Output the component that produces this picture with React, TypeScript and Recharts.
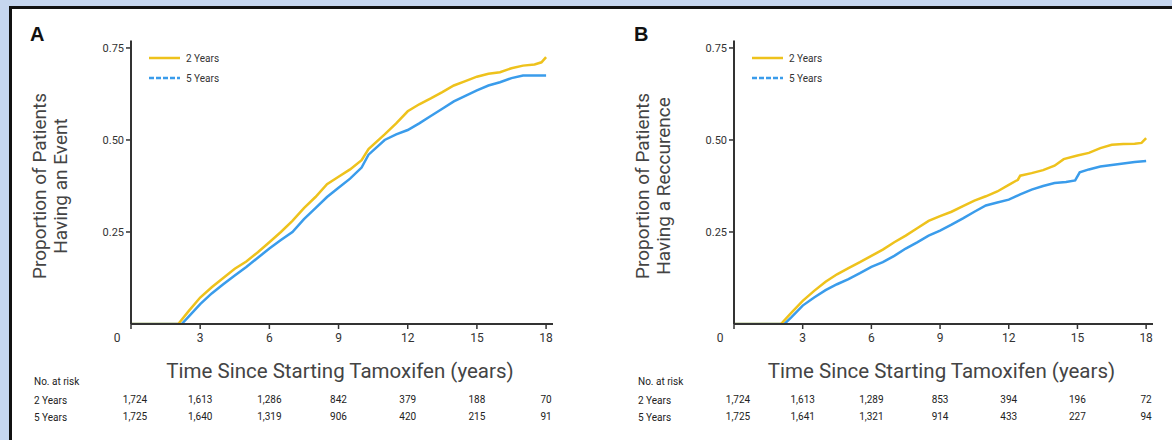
import React from 'react';
import { LineChart, Line, XAxis, YAxis } from 'recharts';

// time points (years) and cumulative proportions
const timeA2 = [0, 2.05, 2.5, 3, 3.5, 4, 4.5, 5, 5.5, 6, 6.5, 7, 7.5, 8, 8.5, 9, 9.5, 10, 10.3, 11, 11.5, 12, 12.5, 13, 13.5, 14, 14.5, 15, 15.5, 16, 16.5, 17, 17.5, 17.8, 18];
const eventA2 = [0, 0, 0.035, 0.072, 0.1, 0.125, 0.15, 0.17, 0.195, 0.222, 0.25, 0.28, 0.315, 0.345, 0.38, 0.4, 0.42, 0.445, 0.475, 0.515, 0.545, 0.578, 0.597, 0.613, 0.63, 0.648, 0.66, 0.672, 0.68, 0.684, 0.695, 0.702, 0.705, 0.711, 0.725];

const timeA5 = [0, 2.2, 2.5, 3, 3.5, 4, 4.5, 5, 5.5, 6, 6.5, 7, 7.5, 8, 8.5, 9, 9.5, 10, 10.3, 11, 11.5, 12, 12.5, 13, 13.5, 14, 14.5, 15, 15.5, 16, 16.5, 17, 18];
const eventA5 = [0, 0, 0.02, 0.054, 0.083, 0.108, 0.132, 0.155, 0.18, 0.205, 0.228, 0.25, 0.285, 0.315, 0.345, 0.37, 0.395, 0.425, 0.46, 0.5, 0.515, 0.527, 0.545, 0.565, 0.585, 0.605, 0.62, 0.635, 0.648, 0.657, 0.668, 0.675, 0.675];

const timeB2 = [0, 2.05, 2.5, 3, 3.5, 4, 4.5, 5, 5.5, 6, 6.5, 7, 7.5, 8, 8.5, 9, 9.5, 10, 10.5, 11, 11.5, 12, 12.4, 12.5, 13, 13.5, 14, 14.4, 15, 15.5, 16, 16.5, 17, 17.5, 17.8, 18];
const recurB2 = [0, 0, 0.03, 0.063, 0.09, 0.115, 0.135, 0.152, 0.168, 0.185, 0.202, 0.222, 0.24, 0.26, 0.28, 0.293, 0.305, 0.32, 0.335, 0.347, 0.36, 0.378, 0.392, 0.403, 0.41, 0.418, 0.43, 0.448, 0.458, 0.465, 0.478, 0.487, 0.489, 0.49, 0.492, 0.505];

const timeB5 = [0, 2.2, 2.5, 3, 3.5, 4, 4.5, 5, 5.5, 6, 6.5, 7, 7.5, 8, 8.5, 9, 9.5, 10, 10.5, 11, 11.5, 12, 12.5, 13, 13.5, 14, 14.5, 14.9, 15.1, 15.5, 16, 16.5, 17, 17.5, 18];
const recurB5 = [0, 0, 0.018, 0.05, 0.072, 0.092, 0.108, 0.122, 0.138, 0.155, 0.168, 0.185, 0.205, 0.222, 0.24, 0.254, 0.27, 0.287, 0.305, 0.322, 0.33, 0.338, 0.352, 0.365, 0.375, 0.383, 0.386, 0.39, 0.412, 0.42, 0.428, 0.432, 0.436, 0.44, 0.443];

// number at risk, one entry per x tick
const xTicks = [0, 3, 6, 9, 12, 15, 18];
const riskA2 = [1724, 1613, 1286, 842, 379, 188, 70];
const riskA5 = [1725, 1640, 1319, 906, 420, 215, 91];
const riskB2 = [1724, 1613, 1289, 853, 394, 196, 72];
const riskB5 = [1725, 1641, 1321, 914, 433, 227, 94];

const yTicks = [0.25, 0.5, 0.75];
const groups = ['2 Years', '5 Years'];

const YELLOW = '#eec21c';
const BLUE = '#3a9ceb';
const INK = '#333';
const FONT = 'Roboto, "DejaVu Sans", sans-serif';

const toPoints = (xs: number[], ys: number[]) => xs.map((t, i) => ({ t, p: ys[i] }));
const fmt = (n: number) => n.toLocaleString('en-US');

const makeXTick = (r2: number[], r5: number[]) => (props: any) => {
  const { x, y, payload } = props;
  const v = payload.value;
  const i = xTicks.indexOf(v);
  const isZero = v === 0;
  return (
    <g fontFamily={FONT} fill="#222">
      <text x={isZero ? x - 14 : x} y={y + 11} textAnchor="middle" fontSize={12} fill={INK}>{v}</text>
      <text x={isZero ? x + 4 : x} y={y + 72} textAnchor="middle" fontSize={10}>{fmt(r2[i])}</text>
      <text x={isZero ? x + 4 : x} y={y + 89} textAnchor="middle" fontSize={10}>{fmt(r5[i])}</text>
    </g>
  );
};

interface PanelProps {
  left: number;
  letter: string;
  yTitle: [string, string];
  s2: { t: number; p: number }[];
  s5: { t: number; p: number }[];
  r2: number[];
  r5: number[];
  plotLeft: number;
  plotRight: number;
}

const Panel: React.FC<PanelProps> = ({ left, letter, yTitle, s2, s5, r2, r5, plotLeft, plotRight }) => {
  const W = 580;
  const H = 440;
  const yAxisW = 60;
  const plotTop = 40.6;
  const plotBottom = 324;
  const xAxisH = 30;
  const midX = (plotLeft + plotRight) / 2;
  const lgX = plotLeft + 18;
  return (
    <div style={{ position: 'absolute', left, top: 0, width: W, height: H }}>
      <svg width={W} height={H} style={{ position: 'absolute', left: 0, top: 0 }}>
        <text x={20} y={41} fontSize={20} fontWeight="bold" fontFamily="Arial, 'Liberation Sans', sans-serif" fill="#111">{letter}</text>
        <g transform={`translate(${plotLeft - 85}, 186) rotate(-90)`} fontFamily={FONT} fontSize={19} fill="#444" textAnchor="middle">
          <text x={0} y={0}>{yTitle[0]}</text>
          <text x={0} y={21}>{yTitle[1]}</text>
        </g>
        <text x={midX - 2} y={378} textAnchor="middle" fontFamily={FONT} fontSize={20.5} fill="#444">Time Since Starting Tamoxifen (years)</text>
        <g fontFamily={FONT} fontSize={10} fill="#222">
          <text x={24} y={385}>No. at risk</text>
          <text x={24} y={404}>{groups[0]}</text>
          <text x={24} y={421}>{groups[1]}</text>
        </g>
        {/* legend */}
        <g fontFamily={FONT} fontSize={10} fill="#333">
          <line x1={lgX} y1={58} x2={lgX + 31} y2={58} stroke={YELLOW} strokeWidth={2.5} />
          <text x={lgX + 37} y={61.5}>{groups[0]}</text>
          <line x1={lgX} y1={78} x2={lgX + 31} y2={78} stroke={BLUE} strokeWidth={2.5} strokeDasharray="5 2" />
          <text x={lgX + 37} y={81.5}>{groups[1]}</text>
        </g>
      </svg>
      <LineChart
        width={W}
        height={H}
        margin={{ top: plotTop, right: W - plotRight, bottom: H - plotBottom - xAxisH, left: plotLeft - yAxisW }}
        style={{ position: 'absolute', left: 0, top: 0 }}
      >
        <XAxis
          type="number"
          dataKey="t"
          domain={[0, 18.3]}
          ticks={xTicks}
          height={xAxisH}
          axisLine={{ stroke: INK, strokeWidth: 2 }}
          tickLine={{ stroke: INK, strokeWidth: 1.5 }}
          tickSize={5}
          tick={makeXTick(r2, r5)}
          allowDataOverflow
        />
        <YAxis
          type="number"
          width={yAxisW}
          domain={[0, 0.77]}
          ticks={yTicks}
          tickFormatter={(v: number) => v.toFixed(2)}
          axisLine={{ stroke: INK, strokeWidth: 2 }}
          tickLine={{ stroke: INK, strokeWidth: 1.5 }}
          tickSize={5}
          tick={{ fontSize: 11, fill: INK, fontFamily: FONT }}
          allowDataOverflow
        />
        <Line data={s5} dataKey="p" name={groups[1]} type="linear" stroke={BLUE} strokeWidth={2.5} dot={false} isAnimationActive={false} />
        <Line data={s2} dataKey="p" name={groups[0]} type="linear" stroke={YELLOW} strokeWidth={2.5} dot={false} isAnimationActive={false} />
      </LineChart>
    </div>
  );
};

export default function App() {
  return (
    <div style={{ position: 'absolute', left: 0, top: 0, width: 1172, height: 440, overflow: 'hidden', background: '#c6d6ef' }}>
      <div style={{ position: 'absolute', left: 9, top: 6, width: 1200, height: 500, background: '#fff', borderLeft: '3px solid #111', borderTop: '3px solid #111' }} />
      <Panel
        left={10}
        letter="A"
        yTitle={['Proportion of Patients', 'Having an Event']}
        s2={toPoints(timeA2, eventA2)}
        s5={toPoints(timeA5, eventA5)}
        r2={riskA2}
        r5={riskA5}
        plotLeft={121}
        plotRight={543}
      />
      <Panel
        left={614}
        letter="B"
        yTitle={['Proportion of Patients', 'Having a Reccurence']}
        s2={toPoints(timeB2, recurB2)}
        s5={toPoints(timeB5, recurB5)}
        r2={riskB2}
        r5={riskB5}
        plotLeft={120}
        plotRight={539}
      />
    </div>
  );
}
